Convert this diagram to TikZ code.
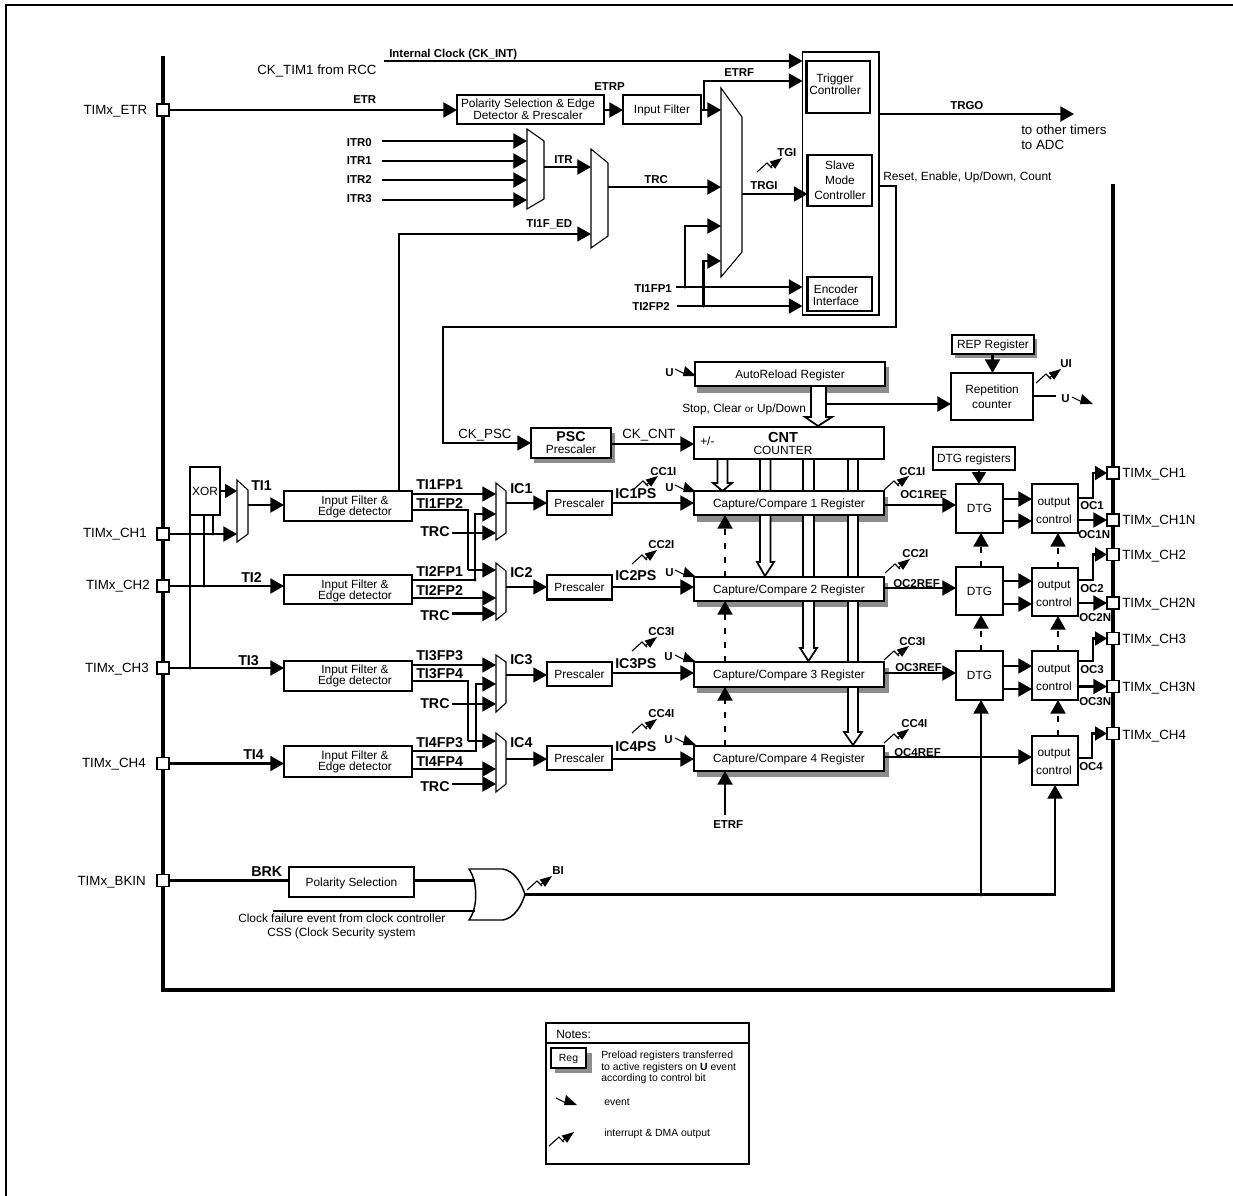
\documentclass[tikz,border=0pt]{standalone}
\usepackage{fontspec}
\setmainfont{Liberation Sans}
\usetikzlibrary{arrows.meta}
\newcount\labn
\tikzset{
  x=0.75pt,y=-0.75pt,
  fa/.style={font=\fontsize{8.9}{9}\selectfont,yshift=-3.2pt},
  fb/.style={font=\fontsize{10}{11}\selectfont,yshift=-3.6pt},
  fn/.style={font=\fontsize{7.8}{8.7}\selectfont,yshift=-2.8pt},
  bs/.style={font=\fontsize{8.6}{9}\selectfont\bfseries,yshift=-3.1pt},
  bl/.style={font=\fontsize{10.7}{11}\selectfont\bfseries,yshift=-3.8pt},
  box/.style={draw,fill=white,line width=1.6pt,inner sep=0pt,outer sep=0pt,align=center,text depth=0pt,font=\fontsize{8.9}{9}\selectfont},
  blab/.style={inner sep=0pt,outer sep=0pt,align=center,text depth=0pt,font=\fontsize{8.9}{9}\selectfont},
  tight/.style={font=\fontsize{8.9}{8.3}\selectfont},
  wire/.style={draw,line width=1.6pt},
  thin wire/.style={draw,line width=1.2pt},
  ar/.style={wire,-{Triangle[length=10.3pt,width=11.3pt]}},
  tar/.style={thin wire,-{Triangle[length=10.3pt,width=11.3pt]}},
  sar/.style={wire,-{Triangle[length=9pt,width=10.5pt]}},
  dar/.style={ar,dash pattern=on 4.5pt off 6pt},
  pad/.style={draw,fill=white,line width=1.3pt,minimum size=9pt,inner sep=0pt,outer sep=0pt},
  muxl/.style={draw,fill=white,line width=0.8pt},
  bus/.style={draw,line width=2.5pt},
  hol/.style={draw,fill=white,line width=1.3pt},
  shd/.style={fill=black!45},
  icon/.style={draw,line width=0.8pt},
}
\newcommand{\bx}[7][]{%
  \pgfmathsetmacro\bxw{(#5-#3)*0.75}\pgfmathsetmacro\bxh{(#6-#4)*0.75}%
  \node[box,#1,minimum width=\bxw pt,minimum height=\bxh pt] (#2) at ({(#3+#5)/2},{(#4+#6)/2}) {#7};}
\newcommand{\bxt}[9][]{%
  \bx{#2}{#3}{#4}{#5}{#6}{}%
  \global\advance\labn by 1\node[blab,#1,name=lab\the\labn] at (#7,#8) {#9};}
\newcommand{\labW}[4][bs]{\global\advance\labn by 1\node[#1,anchor=base west,inner sep=0pt,name=lab\the\labn] at (#2,#3) {#4};}
\newcommand{\labE}[4][bs]{\global\advance\labn by 1\node[#1,anchor=base east,inner sep=0pt,name=lab\the\labn] at (#2,#3) {#4};}
\newcommand{\muxn}[7]{% name xl xr ytl ybl ytr ybr
  \node[inner sep=0pt,outer sep=0pt,minimum width={(#3-#2)*0.75pt},minimum height={(#5-#4)*0.75pt}] (#1) at ({(#2+#3)/2},{(#4+#5)/2}) {};
  \draw[muxl] (#2,#4) -- (#3,#6) -- (#3,#7) -- (#2,#5) -- cycle;}
\newcommand{\intr}[2]{%
  \draw[icon,shift={(#1,#2)}] (0,0) -- (10,-9) -- (15,-4);
  \draw[icon,shift={(#1,#2)},-{Triangle[length=9pt,width=6.5pt]}] (13,-5) -- (25,-14);}
\newcommand{\evt}[2]{%
  \draw[icon,shift={(#1,#2)}] (0,0) -- (12,6);
  \fill[shift={(#1,#2)}] (10,-3) -- (21,7) -- (8,7) -- cycle;}
\newcommand{\hollow}[8]{% src x1 x2 headY tipY hx1 hx2 tipx
  \path[hol] (#1.south -| #2,0) -- (#2,#4) -- (#6,#4) -- (#8,#5) -- (#7,#4) -- (#3,#4) -- (#1.south -| #3,0);}
\newcommand{\dotn}[2]{\fill (#1,#2) circle (1.7);}
\begin{document}
\begin{tikzpicture}
\useasboundingbox (0,0) rectangle (1233,1196);
\fill[white] (0,0) rectangle (1233,1196);
% page frame
\draw[line width=1.5pt] (6,1196) -- (6,5) -- (1233,5);
% timer frame
\path[bus] (163,56) -- (163,990) -- (1113,990) -- (1113,184);
% shadows
\fill[shd] (697,367) rectangle (889,393);
\fill[shd] (534,433) rectangle (615,463);
\fill[shd] (697,497) rectangle (888,522);
\fill[shd] (697,583) rectangle (888,607);
\fill[shd] (697,668) rectangle (889,693);
\fill[shd] (697,752) rectangle (889,777);
\fill[shd] (955,339) rectangle (1037,358);
% registers named first so that the buses can leave from them
\node[inner sep=0pt,outer sep=0pt,minimum width=142.5pt,minimum height=18pt] (arr0) at (790,374) {};
\node[inner sep=0pt,outer sep=0pt,minimum width=142.5pt,minimum height=24pt] (cnt0) at (789,443) {};
\hollow{arr0}{811}{826}{417}{426}{805}{832}{818}
\hollow{cnt0}{717.5}{727.5}{483}{491}{713}{732}{722.5}
\hollow{cnt0}{760}{770.5}{562}{576}{757}{774}{765}
\hollow{cnt0}{803}{814}{648}{661}{800}{817}{808.5}
\hollow{cnt0}{848}{858}{732}{745}{844}{862}{853}
% boxes
\bx[line width=1.4pt]{bigbox}{802.5}{52}{879}{315}{}
\bxt{trig}{806.5}{61}{870}{113}{835}{84}{Trigger\\Controller}
\bxt{slave}{807.5}{155}{872}{206}{840}{180}{Slave\\[2.4pt]Mode\\[2.4pt]Controller}
\bxt{enc}{807.5}{277}{872}{311}{836}{295}{Encoder\\Interface}
\bxt{polsel}{457}{95}{604}{124}{528}{109}{Polarity Selection \& Edge\\Detector \& Prescaler}
\bx{infilt}{623}{95}{701}{124}{Input Filter}
\bx{xor}{190}{467}{220}{515}{XOR}
\bxt[tight]{f1}{284}{491}{412}{521}{355}{505.5}{Input Filter \&\\Edge detector}
\bxt[tight]{f2}{284}{575}{412}{604}{355}{589.5}{Input Filter \&\\Edge detector}
\bxt[tight]{f3}{284}{661}{412}{691}{355}{674.5}{Input Filter \&\\Edge detector}
\bxt[tight]{f4}{284}{746}{412}{777}{355}{760.5}{Input Filter \&\\Edge detector}
\bx{pre1}{547}{491}{612}{515}{Prescaler}
\bx{pre2}{547}{575}{612}{599.5}{Prescaler}
\bx{pre3}{547}{662}{612}{686}{Prescaler}
\bx{pre4}{547}{746}{612}{770}{Prescaler}
\bx{psc}{531}{428}{611}{458}{\fontsize{10.6}{11}\selectfont\bfseries PSC\\Prescaler}
\bx{arr}{695}{362}{885}{386}{AutoReload Register}
\bxt{cnt}{694}{427}{884}{459}{783}{443}{{\fontsize{10.9}{12}\selectfont\bfseries CNT}\\COUNTER}
\bx{cc1}{694}{491}{884}{515}{Capture/Compare 1 Register}
\bx{cc2}{694}{577}{884}{601}{Capture/Compare 2 Register}
\bx{cc3}{694}{662}{884}{687}{Capture/Compare 3 Register}
\bx{cc4}{694}{746}{884}{771}{Capture/Compare 4 Register}
\bx{rep}{952}{335}{1034}{354}{REP Register}
\bx{repc}{951}{373}{1033}{420}{Repetition\\[2pt]counter}
\bx{dtgr}{933}{447}{1015}{470}{DTG registers}
\bx{dtg1}{956}{484}{1003}{533}{DTG}
\bx{dtg2}{956}{567}{1003}{615}{DTG}
\bx{dtg3}{956}{651}{1003}{700}{DTG}
\bxt[font=\fontsize{8.9}{13.5}\selectfont]{oc1}{1032}{484}{1078}{533}{1054}{511}{output\\control}
\bxt[font=\fontsize{8.9}{13.5}\selectfont]{oc2}{1032}{568}{1078}{616}{1054}{594}{output\\control}
\bxt[font=\fontsize{8.9}{13.5}\selectfont]{oc3}{1032}{651}{1078}{700}{1054}{678}{output\\control}
\bxt[font=\fontsize{8.9}{13.5}\selectfont]{oc4}{1032}{736}{1078}{785}{1054}{762}{output\\control}
\bx{polb}{289}{867}{414}{897}{Polarity Selection}
% muxes
\muxn{mux1}{527}{544}{129}{209}{141}{199}
\muxn{mux2}{591}{608}{149}{248}{163}{236}
\muxn{mux3}{721}{742}{88}{277}{117}{252}
\muxn{muxTI}{237}{248}{480}{542}{490}{534}
\muxn{ic1}{496}{506}{483}{540}{491}{533}
\muxn{ic2}{496}{506}{563}{620}{571}{612}
\muxn{ic3}{496}{506}{655}{712}{662}{703}
\muxn{ic4}{496}{506}{733}{792}{741}{784}
% OR gate
\node[inner sep=0pt,outer sep=0pt,minimum width=42pt,minimum height=38pt] (orgate) at (497,894.5) {};
\draw[line width=1.1pt,fill=white] (469,869) -- (503,869) .. controls (514,871) and (521,882) .. (525,894.5) .. controls (521,907) and (514,918) .. (503,920) -- (469,920) .. controls (478,908) and (478,882) .. (469,869) -- cycle;
% pads
\node[pad] (pETR) at (163,110) {};
\node[pad] (pCH1) at (163,534) {};
\node[pad] (pCH2) at (163,586) {};
\node[pad] (pCH3) at (163,668) {};
\node[pad] (pCH4) at (163,763.5) {};
\node[pad] (pBK) at (163,880.5) {};
\node[pad] (qCH1) at (1113,473) {};
\node[pad] (qCH1N) at (1113,520) {};
\node[pad] (qCH2) at (1113,554.5) {};
\node[pad] (qCH2N) at (1113,603) {};
\node[pad] (qCH3) at (1113,638.5) {};
\node[pad] (qCH3N) at (1113,686.5) {};
\node[pad] (qCH4) at (1113,733.5) {};
% free ends
\coordinate (ckint) at (384,61);
\coordinate (itr0) at (382,141);
\coordinate (itr1) at (382,161);
\coordinate (itr2) at (382,180);
\coordinate (itr3) at (382,200);
\coordinate (tf1) at (676,287);
\coordinate (tf2) at (677,306);
\coordinate (trgo) at (1074,114);
\coordinate (stopl) at (826,404);
\coordinate (repo) at (1056,396);
\coordinate (trc1) at (452,533);
\coordinate (trc2) at (452,613.5);
\coordinate (trc3) at (452,704);
\coordinate (trc4) at (452,784);
\coordinate (etrfb) at (725,815);
\coordinate (clkf) at (273,911);
% top wires
\path[ar] (ckint) -- (bigbox.west |- ckint);
\path[ar] (pETR) -- (polsel.west |- pETR);
\path[ar] (polsel.east |- 0,110) -- (infilt.west |- 0,110);
\path[ar] (infilt.east |- 0,110) -- (mux3.west |- 0,110);
\path[ar] (704,110) -- (704,81) -- (bigbox.west |- 0,81);
\path[ar] (itr0) -- (mux1.west |- itr0);
\path[ar] (itr1) -- (mux1.west |- itr1);
\path[ar] (itr2) -- (mux1.west |- itr2);
\path[ar] (itr3) -- (mux1.west |- itr3);
\path[ar] (mux1.east |- 0,167) -- (mux2.west |- 0,167);
\path[ar] (mux2.east |- 0,187) -- (mux3.west |- 0,187);
\path[tar] (f1.north -| 399,0) -- (399,234) -- (mux2.west |- 0,234);
\path[ar] (mux3.east |- 0,194) -- (slave.west |- 0,194);
\path[ar] (685,287) -- (685,226) -- (mux3.west |- 0,226);
\path[ar] (703.5,306) -- (703.5,261) -- (mux3.west |- 0,261);
\path[ar] (tf1) -- (bigbox.west |- tf1);
\path[ar] (tf2) -- (bigbox.west |- tf2);
\dotn{685}{287}\dotn{703.5}{306}
\path[ar] (bigbox.east |- trgo) -- (trgo);
\path[tar] (bigbox.east |- 0,186) -- (896,186) -- (896,327) -- (443,327) -- (443,443) -- (psc.west |- 0,443);
% counter area
\path[ar] (psc.east |- 0,444) -- (cnt.west |- 0,444);
\path[ar] (stopl) -- (repc.west |- stopl);
\path[ar] (rep.south -| 992.5,0) -- (repc.north -| 992.5,0);
\path[wire] (repc.east |- repo) -- (repo);
\path[sar] (dtgr.south -| 979,0) -- (dtg1.north -| 979,0);
% inputs
\path[sar] (xor.east |- 0,491) -- (muxTI.west |- 0,491);
\path[ar] (pCH1) -- (muxTI.west |- pCH1);
\path[ar] (muxTI.east |- 0,505) -- (f1.west |- 0,505);
\path[wire] (xor.south -| 213,0) -- (213,534);
\path[wire] (xor.south -| 204,0) -- (204,586);
\path[wire] (xor.south -| 190,0) -- (190,668);
\dotn{213}{534}\dotn{204}{586}\dotn{190}{668}
\path[ar] (pCH2) -- (f2.west |- pCH2);
\path[ar] (pCH3) -- (f3.west |- pCH3);
\path[ar] (pCH4) -- (f4.west |- pCH4);
% IC1/IC2
\path[tar] (f1.east |- 0,494) -- (ic1.west |- 0,494);
\path[thin wire] (f1.east |- 0,510) -- (468,510) -- (468,570);
\path[tar] (468,570) -- (ic2.west |- 0,570);
\path[tar] (f2.east |- 0,580) -- (475,580) -- (475,514) -- (ic1.west |- 0,514);
\dotn{475}{580}
\path[tar] (trc1) -- (ic1.west |- trc1);
\path[ar] (f2.east |- 0,598) -- (ic2.west |- 0,598);
\path[ar] (trc2) -- (ic2.west |- trc2);
% IC3/IC4
\path[tar] (f3.east |- 0,665) -- (ic3.west |- 0,665);
\path[thin wire] (f3.east |- 0,681) -- (468,681) -- (468,741);
\path[tar] (468,741) -- (ic4.west |- 0,741);
\path[tar] (f4.east |- 0,751) -- (476,751) -- (476,684) -- (ic3.west |- 0,684);
\path[tar] (trc3) -- (ic3.west |- trc3);
\path[ar] (f4.east |- 0,769) -- (ic4.west |- 0,769);
\path[ar] (trc4) -- (ic4.west |- trc4);
% to prescalers
\path[tar] (ic1.east |- 0,503) -- (pre1.west |- 0,503);
\path[tar] (ic2.east |- 0,587) -- (pre2.west |- 0,587);
\path[tar] (ic3.east |- 0,675) -- (pre3.west |- 0,675);
\path[tar] (ic4.east |- 0,759) -- (pre4.west |- 0,759);
\path[ar] (pre1.east |- 0,503) -- (cc1.west |- 0,503);
\path[ar] (pre2.east |- 0,587) -- (cc2.west |- 0,587);
\path[ar] (pre3.east |- 0,673) -- (cc3.west |- 0,673);
\path[ar] (pre4.east |- 0,759) -- (cc4.west |- 0,759);
% capture/compare chain
\path[dar] (cc2.north -| 725,0) -- (cc1.south -| 725,0);
\path[dar] (cc3.north -| 725,0) -- (cc2.south -| 725,0);
\path[dar] (cc4.north -| 725,0) -- (cc3.south -| 725,0);
\path[ar] (etrfb) -- (cc4.south -| etrfb);
% outputs
\path[ar] (cc1.east |- 0,505) -- (dtg1.west |- 0,505);
\path[ar] (cc2.east |- 0,588) -- (dtg2.west |- 0,588);
\path[ar] (cc3.east |- 0,673) -- (dtg3.west |- 0,673);
\path[ar] (cc4.east |- 0,757) -- (oc4.west |- 0,757);
\path[ar] (dtg1.east |- 0,499) -- (oc1.west |- 0,499);
\path[ar] (dtg1.east |- 0,521) -- (oc1.west |- 0,521);
\path[ar] (dtg2.east |- 0,581) -- (oc2.west |- 0,581);
\path[ar] (dtg2.east |- 0,604) -- (oc2.west |- 0,604);
\path[ar] (dtg3.east |- 0,666) -- (oc3.west |- 0,666);
\path[ar] (dtg3.east |- 0,689) -- (oc3.west |- 0,689);
\path[dar] (dtg2.north -| 981,0) -- (dtg1.south -| 981,0);
\path[dar] (dtg3.north -| 981,0) -- (dtg2.south -| 981,0);
\path[dar] (oc2.north -| 1058,0) -- (oc1.south -| 1058,0);
\path[dar] (oc3.north -| 1058,0) -- (oc2.south -| 1058,0);
\path[dar] (oc4.north -| 1058,0) -- (oc3.south -| 1058,0);
\path[sar] (oc1.east |- 0,498) -- (1093,498) -- (1093,473) -- (qCH1);
\path[ar] (oc1.east |- qCH1N) -- (qCH1N);
\path[sar] (oc2.east |- 0,580) -- (1093,580) -- (1093,554.5) -- (qCH2);
\path[ar] (oc2.east |- qCH2N) -- (qCH2N);
\path[sar] (oc3.east |- 0,661) -- (1093,661) -- (1093,638.5) -- (qCH3);
\path[ar] (oc3.east |- qCH3N) -- (qCH3N);
\path[sar] (oc4.east |- 0,758) -- (1092,758) -- (1092,733.5) -- (qCH4);
% break
\path[wire] (pBK) -- (polb.west |- pBK);
\path[wire] (polb.east |- 0,880.5) -- (475,880.5);
\path[wire] (clkf) -- (475,911);
\path[ar] (orgate.east |- 0,894.5) -- (1055,894.5) -- (oc4.south -| 1055,0);
\path[ar] (981,894.5) -- (dtg3.south -| 981,0);
\dotn{981}{895}
% icons
\intr{757}{172}
\intr{633}{490}\intr{632}{564}\intr{632}{651}\intr{632}{733}
\intr{884}{490}\intr{885}{573}\intr{884}{660}\intr{884}{743}
\intr{1036}{383}\intr{527}{890}
\evt{675}{369}\evt{675}{485}\evt{675}{570}\evt{675}{655}\evt{675}{738}\evt{1072}{397}
% left labels
\labE[fb]{147.5}{110}{TIMx\_ETR}
\labE[fb]{147}{533}{TIMx\_CH1}
\labE[fb]{150}{585}{TIMx\_CH2}
\labE[fb]{149}{668}{TIMx\_CH3}
\labE[fb]{146}{763}{TIMx\_CH4}
\labE[fb]{146}{881}{TIMx\_BKIN}
% top labels
\labW{389}{53}{Internal Clock (CK\_INT)}
\labW[fb]{257}{70}{CK\_TIM1 from RCC}
\labW{353}{99}{ETR}
\labW{594}{86}{ETRP}
\labE{372}{142}{ITR0}
\labE{372}{160}{ITR1}
\labE{372}{179}{ITR2}
\labE{372}{198}{ITR3}
\labW{554}{159}{ITR}
\labW{526}{223}{TI1F\_ED}
\labW{644}{179}{TRC}
\labW{724}{72}{ETRF}
\labW{777}{152}{TGI}
\labW{750}{185}{TRGI}
\labW{634}{288}{TI1FP1}
\labW{632}{306}{TI2FP2}
\labW{950}{105}{TRGO}
\labW[fb]{1021}{130}{to other timers}
\labW[fb]{1021}{145}{to ADC}
\labW[fa]{883}{176}{Reset, Enable, Up/Down, Count}
% input labels
\labW[bl]{251}{485}{TI1}
\labW[bl]{241}{577}{TI2}
\labW[bl]{238}{660}{TI3}
\labW[bl]{243}{754}{TI4}
\labW[bl]{251}{871}{BRK}
\labW[bl]{416}{484}{TI1FP1}
\labW[bl]{416}{503}{TI1FP2}
\labW[bl]{416}{571}{TI2FP1}
\labW[bl]{416}{590}{TI2FP2}
\labW[bl]{416}{655}{TI3FP3}
\labW[bl]{416}{673}{TI3FP4}
\labW[bl]{416}{742}{TI4FP3}
\labW[bl]{416}{761}{TI4FP4}
\labW[bl]{420}{531}{TRC}
\labW[bl]{420}{615}{TRC}
\labW[bl]{420}{703}{TRC}
\labW[bl]{420}{786}{TRC}
\labW[bl]{510}{488}{IC1}
\labW[bl]{510}{572}{IC2}
\labW[bl]{510}{659}{IC3}
\labW[bl]{510}{742}{IC4}
\labW[bl]{615}{493}{IC1PS}
\labW[bl]{615}{575}{IC2PS}
\labW[bl]{615}{663}{IC3PS}
\labW[bl]{615}{746}{IC4PS}
\labW[fb]{458}{434}{CK\_PSC}
\labW[fb]{622}{434}{CK\_CNT}
\labW[fa]{700}{441}{+/-}
\labW[fa]{682}{408}{Stop, Clear {\fontsize{7.5}{8}\selectfont or} Up/Down}
\labW[fa]{238}{918.5}{Clock failure event from clock controller}
\labW[fa]{267}{932}{CSS (Clock Security system}
\labW{552}{870}{BI}
\labW{713}{824}{ETRF}
% U labels
\labW{665}{372}{U}\labW{665}{487}{U}\labW{665}{572}{U}\labW{664}{656}{U}\labW{664}{739}{U}\labW{1061}{398}{U}
\labW{1060}{363}{UI}
% interrupts
\labW{650}{471}{CC1I}\labW{648}{544}{CC2I}\labW{648}{631}{CC3I}\labW{648}{713}{CC4I}
\labW{899}{471}{CC1I}\labW{902}{553}{CC2I}\labW{899}{641}{CC3I}\labW{901}{723}{CC4I}
\labW{900}{494}{OC1REF}\labW{893}{583}{OC2REF}\labW{895}{667}{OC3REF}\labW{894}{752}{OC4REF}
\labW{1080}{505}{OC1}\labW{1080}{588}{OC2}\labW{1080}{669}{OC3}\labW{1079}{766}{OC4}
\labW{1078}{534}{OC1N}\labW{1079}{617}{OC2N}\labW{1079}{701}{OC3N}
% right labels
\labW[fb]{1122}{473}{TIMx\_CH1}
\labW[fb]{1122}{520}{TIMx\_CH1N}
\labW[fb]{1122}{555}{TIMx\_CH2}
\labW[fb]{1122}{603}{TIMx\_CH2N}
\labW[fb]{1122}{639}{TIMx\_CH3}
\labW[fb]{1122}{687}{TIMx\_CH3N}
\labW[fb]{1122}{735}{TIMx\_CH4}
% notes
\bx[line width=1.3pt]{notes}{546}{1023}{749}{1164}{}
\draw[line width=1pt] (notes.west |- 0,1043) -- (notes.east |- 0,1043);
\labW[fa,font=\fontsize{9}{10}\selectfont]{556}{1034}{Notes:}
\fill[shd] (555,1053) rectangle (592,1073);
\bx[font=\fontsize{7.8}{8.7}\selectfont]{reg}{551}{1048}{586}{1068}{Reg}
\labW[fn]{601}{1055}{Preload registers transferred}
\labW[fn]{601}{1067}{to active registers on \textbf{U} event}
\labW[fn]{601}{1078}{according to control bit}
\labW[fn]{604}{1102}{event}
\labW[fn]{604}{1133}{interrupt \& DMA output}
\evt{556}{1098}
\intr{549}{1146}
\end{tikzpicture}
\end{document}
